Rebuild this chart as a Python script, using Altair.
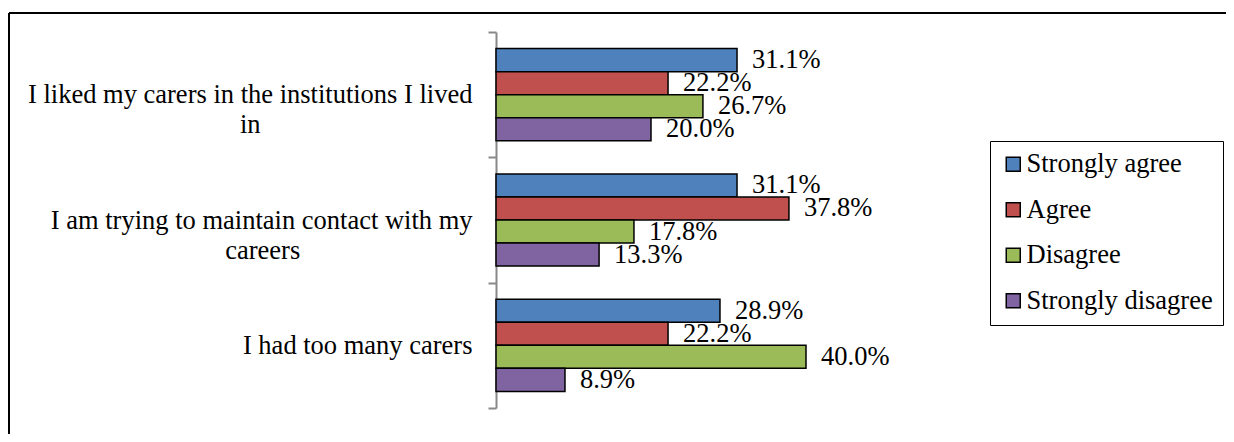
import json
import altair as alt
import pandas as pd

# ---- data ----
categories = [
    "I liked my carers in the institutions I lived in",
    "I am trying to maintain contact with my careers",
    "I had too many carers",
]
label_lines = [
    ["I liked my carers in the institutions I lived", "in"],
    ["I am trying to maintain contact with my", "careers"],
    ["I had too many carers"],
]
series = ["Strongly agree", "Agree", "Disagree", "Strongly disagree"]
colors = ["#4F81BD", "#C0504D", "#9BBB59", "#8064A2"]
strongly_agree = [0.311, 0.311, 0.289]
agree = [0.222, 0.378, 0.222]
disagree = [0.267, 0.178, 0.400]
strongly_disagree = [0.200, 0.133, 0.089]

values = [strongly_agree, agree, disagree, strongly_disagree]
rows = []
for s, vals in zip(series, values):
    for c, v in zip(categories, vals):
        rows.append({"category": c, "series": s, "value": v})
df = pd.DataFrame(rows)

# approximate Times / Liberation Serif advance widths (em/1000) to centre the wrapped 2nd line
W = {" ": 250, "a": 444, "b": 500, "c": 444, "d": 500, "e": 444, "f": 333, "g": 500, "h": 500,
     "i": 278, "j": 278, "k": 500, "l": 278, "m": 778, "n": 500, "o": 500, "p": 500, "q": 500,
     "r": 333, "s": 389, "t": 278, "u": 500, "v": 500, "w": 722, "x": 500, "y": 500, "z": 444,
     "I": 333}


def tw(s):
    return sum(W.get(ch, 500) for ch in s)


NBSP = "\u00a0"
WJ = "\u2060"  # non-whitespace terminator so the padding is not trimmed
expr = ""
for cat, lines in zip(categories, label_lines):
    out = list(lines)
    if len(lines) > 1:
        pad = round((tw(lines[0]) - tw(lines[1])) / 2 / 250)
        out[1] = lines[1] + NBSP * pad + WJ
    expr += f"datum.value === {json.dumps(cat)} ? {json.dumps(out, ensure_ascii=False)} : "
expr += "datum.value"

FONT = "Liberation Serif, Times New Roman, Times, DejaVu Serif, serif"
FS = 26.5

base = alt.Chart(df).encode(
    y=alt.Y(
        "category:N",
        sort=categories,
        scale=alt.Scale(paddingInner=0, paddingOuter=0),
        axis=alt.Axis(
            title=None,
            labelExpr=expr,
            labelFont=FONT,
            labelFontSize=FS,
            labelColor="black",
            labelAlign="right",
            labelBaseline="middle",
            labelLineHeight=30,
            labelPadding=16,
            labelLimit=600,
            tickSize=8,
            tickColor="#888888",
            tickWidth=2,
            tickBand="extent",
            domainColor="#888888",
            domainWidth=2,
        ),
    ),
    yOffset=alt.YOffset(
        "series:N",
        sort=series,
        scale=alt.Scale(paddingInner=0, paddingOuter=0.72),
    ),
)

bars = base.mark_bar(stroke="black", strokeWidth=1.5).encode(
    x=alt.X("value:Q", scale=alt.Scale(domain=[0, 0.6]), axis=None),
    color=alt.Color(
        "series:N",
        sort=series,
        scale=alt.Scale(domain=series, range=colors),
        legend=alt.Legend(
            orient="none",
            legendX=494,
            legendY=109,
            title=None,
            strokeColor="black",
            padding=10,
            symbolType="square",
            symbolSize=196,
            symbolStrokeColor="black",
            symbolStrokeWidth=1.5,
            labelFont=FONT,
            labelFontSize=FS,
            labelColor="black",
            labelOffset=0,
            labelLimit=400,
            rowPadding=18.5,
        ),
    ),
)

text = base.mark_text(
    align="left", baseline="middle", dx=15, font=FONT, fontSize=FS, color="black"
).encode(
    x=alt.X("value:Q"),
    text=alt.Text("value:Q", format=".1%"),
)

frame_df = pd.DataFrame({"k": [0]})
frame_top = alt.Chart(frame_df).mark_rule(color="black", strokeWidth=2).encode(
    x=alt.value(-487), x2=alt.value(760), y=alt.value(-19)
)
frame_left = alt.Chart(frame_df).mark_rule(color="black", strokeWidth=2).encode(
    x=alt.value(-487), y=alt.value(-19), y2=alt.value(420)
)

chart = (
    alt.layer(bars, text, frame_top, frame_left)
    .properties(
        width=465,
        height=376,
        padding={"left": 488, "top": 24, "right": 265, "bottom": 26},
        autosize="none",
        background="white",
    )
    .configure_view(strokeWidth=0)
)

chart.save("out.html", embed_options={"renderer": "svg", "actions": False})
